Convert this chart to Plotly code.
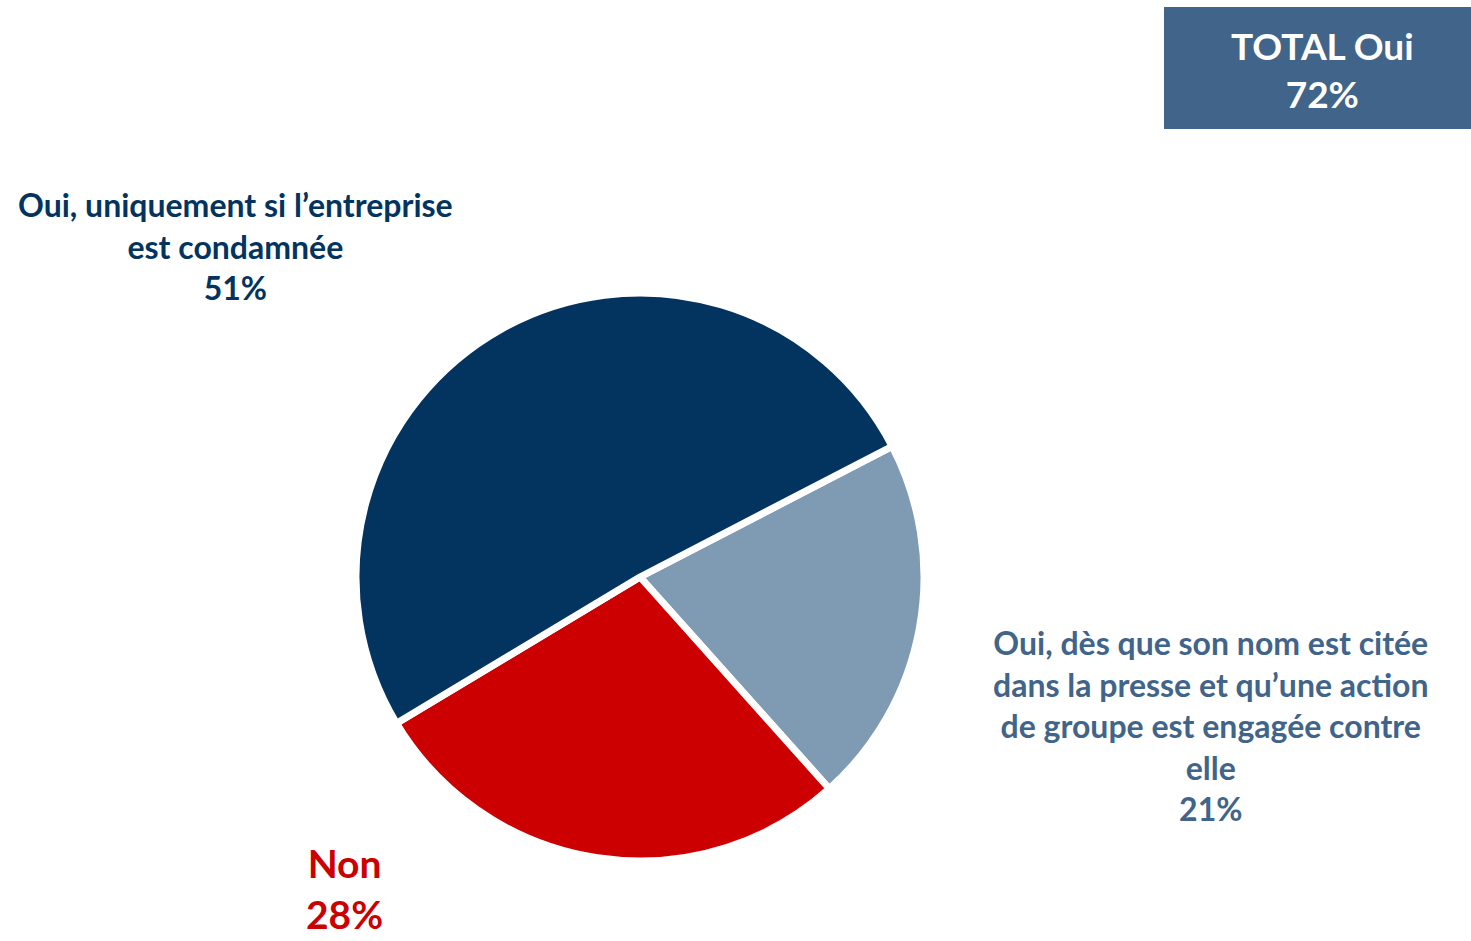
import plotly.graph_objects as go

labels = ["Oui, dès que son nom est citée dans la presse et qu’une action de groupe est engagée contre elle",
          "Non",
          "Oui, uniquement si l’entreprise est condamnée"]
values = [21, 28, 51]
colors = ["#7F9AB3", "#CC0000", "#03335F"]
total_oui = 72

W, H = 1471, 941

def px(x):
    return x / W

def py(y):
    return 1 - y / H

fig = go.Figure(go.Pie(
    labels=labels, values=values, sort=False, direction="clockwise",
    rotation=62.6, textinfo="none", hoverinfo="label+percent",
    marker=dict(colors=colors, line=dict(color="white", width=7)),
    domain=dict(x=[px(356), px(924)], y=[py(861), py(293)]),
    showlegend=False,
))

font = "Lato, 'Open Sans', sans-serif"
ann = [
    dict(x=px(235), y=py(246),
         text="Oui, uniquement si l’entreprise<br>est condamnée<br>%d%%" % values[2],
         color="#03335F", size=32),
    dict(x=px(1211), y=py(725),
         text="Oui, dès que son nom est citée<br>dans la presse et qu’une action<br>de groupe est engagée contre<br>elle<br>%d%%" % values[0],
         color="#41648A", size=32),
    dict(x=px(344), y=py(888),
         text="Non<br>%d%%" % values[1],
         color="#CC0000", size=39),
    dict(x=px(1322), y=py(69),
         text="TOTAL Oui<br>%d%%" % total_oui,
         color="white", size=37),
]
annotations = []
for a in ann:
    annotations.append(dict(
        x=a["x"], y=a["y"], xref="paper", yref="paper", xanchor="center", yanchor="middle",
        text="<b>" + a["text"] + "</b>", showarrow=False, align="center",
        font=dict(family=font, size=a["size"], color=a["color"]),
    ))

fig.update_layout(
    width=W, height=H, margin=dict(l=0, r=0, t=0, b=0),
    paper_bgcolor="white", plot_bgcolor="white",
    annotations=annotations,
    shapes=[dict(type="rect", xref="paper", yref="paper",
                 x0=px(1164), x1=px(1471), y0=py(129), y1=py(7),
                 fillcolor="#41648A", line=dict(width=0), layer="below")],
)

fig.write_html("out.html", config={"displayModeBar": False},
               post_script="document.body.style.margin='0';document.body.style.overflow='hidden';")
